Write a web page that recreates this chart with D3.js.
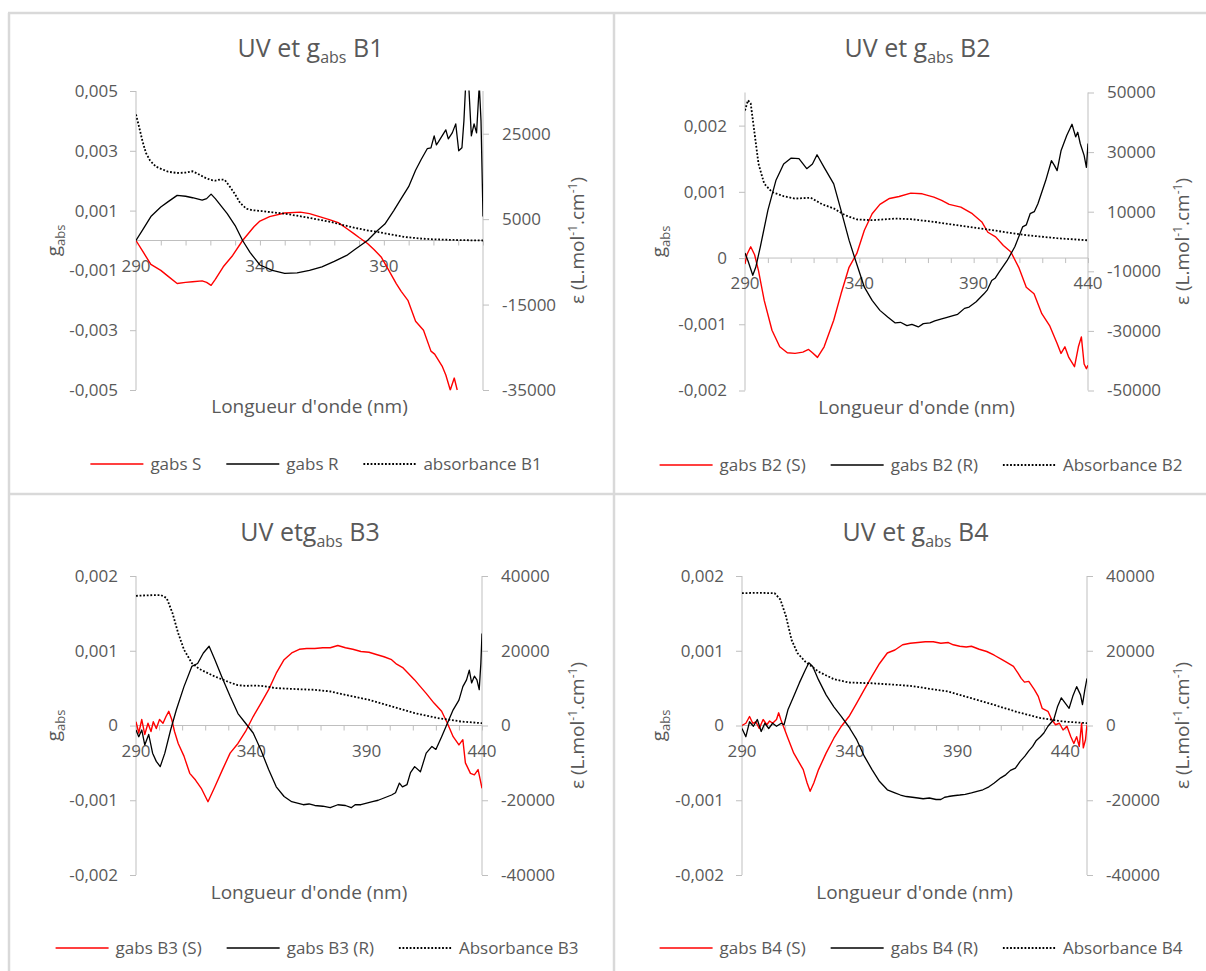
<!DOCTYPE html>
<html><head><meta charset="utf-8">
<script src="https://cdn.jsdelivr.net/npm/d3@7"></script>
<style>
body{margin:0;background:#fff}
svg{display:block}
text{font-family:"Open Sans",sans-serif;fill:#595959}
</style>
</head><body>
<svg id="c" width="1206" height="971"></svg>
<script>
// ---------------- DATA ----------------
// [wavelength nm, g_abs]  and  [wavelength nm, epsilon]
const b1S = [[290,0],[293,-0.0004],[296,-0.0008],[300,-0.001],[303,-0.0012],[306.6,-0.00144],[310,-0.0014],[312.8,-0.00138],[316.7,-0.00135],[318.5,-0.0014],[320.3,-0.0015],[322,-0.0013],[325.2,-0.00088],[329,-0.0005],[333,0],[337.6,0.00046],[340,0.00065],[343.9,0.0008],[350,0.00092],[356.3,0.00095],[360,0.0009],[364,0.0008],[368,0.0007],[371.6,0.0006],[375,0.0004],[377.9,0.00023],[380,0.0001],[383.4,-0.0001],[386,-0.0003],[388.9,-0.00055],[392,-0.001],[395,-0.00144],[397,-0.0017],[399.7,-0.002],[402.8,-0.0027],[406,-0.003],[409,-0.0037],[410.5,-0.0038],[412,-0.004],[413.5,-0.0042],[415,-0.0045],[416.8,-0.005],[418.4,-0.0046],[419.6,-0.005]];
const b1R = [[290,0],[293,0.0004],[296,0.0008],[300,0.00112],[303,0.0013],[306.6,0.00151],[310,0.00148],[312.8,0.00143],[316.7,0.00135],[318.5,0.0014],[320.3,0.00155],[322,0.0014],[326.8,0.0009],[330,0.0005],[333,0],[336,-0.0004],[340,-0.00082],[345,-0.001],[350,-0.0011],[355,-0.00108],[360,-0.001],[365,-0.00088],[370,-0.0007],[375,-0.0005],[378,-0.00032],[383.4,0],[387,0.0003],[390.4,0.00055],[394,0.001],[396.6,0.00135],[400,0.0018],[402.8,0.00235],[405,0.0027],[407.5,0.00307],[409,0.0031],[410.3,0.0035],[411.2,0.0032],[412,0.0033],[413.5,0.0035],[415,0.0037],[416,0.0034],[417.6,0.0036],[419,0.0039],[420.2,0.003],[421.5,0.0031],[422.3,0.004],[423,0.0052],[424.3,0.0051],[425.3,0.0035],[426.4,0.0039],[427.4,0.0036],[428.5,0.0052],[429.2,0.004],[430,0.0008]];
const b1A = [[290,29500],[291.5,26000],[292.6,23300],[294,20500],[295.7,18700],[298,17300],[300.4,16700],[303,16100],[306.6,15800],[310,15900],[312.8,16200],[315,15600],[317.5,14800],[320,14200],[322,14000],[324,14300],[325.8,14200],[328,12500],[329.9,10900],[332,8800],[334.5,7440],[337,7100],[340.7,6900],[345,6600],[350,6280],[355,5800],[359.4,5350],[364,4850],[368.7,4340],[373,3700],[378,3000],[383,2400],[387.4,2000],[393,1400],[398.2,850],[404,500],[409,300],[420,100],[430,0]];

const b2S = [[290,-0.00009],[290.8,0.00005],[292.5,0.00017],[294.2,0.00005],[295.9,-0.00019],[298.4,-0.00064],[301.8,-0.00109],[305.2,-0.00134],[308.5,-0.00143],[311.9,-0.00144],[315.3,-0.00142],[317.8,-0.00138],[319.5,-0.00143],[321.7,-0.0015],[324.6,-0.00134],[328.8,-0.00094],[332,-0.00054],[335.5,-0.00014],[338.9,0.00007],[342.2,0.00042],[345.6,0.00067],[349,0.00081],[353.2,0.0009],[357.4,0.00093],[362.5,0.00098],[367.5,0.00097],[372.6,0.00092],[376,0.00087],[379.3,0.00081],[384.4,0.00077],[389.4,0.00067],[393.7,0.00054],[396.2,0.00039],[399.6,0.00032],[403,0.00019],[406.3,0.00009],[409.7,-0.00014],[413,-0.00044],[416.4,-0.00054],[419.8,-0.00084],[423.2,-0.00102],[426.5,-0.00129],[428.2,-0.00144],[429.9,-0.00134],[431.6,-0.0015],[434.1,-0.00164],[435.8,-0.00134],[437.1,-0.00119],[438.3,-0.0016],[439.3,-0.00167],[440,-0.00162]];
const b2R = [[290,0.000075],[291.3,-0.00004],[293.4,-0.00026],[294.7,-0.00014],[296.7,0.00017],[300,0.00072],[303.5,0.00117],[306.9,0.00142],[310.2,0.00151],[313.6,0.0015],[317,0.00135],[319.5,0.00142],[321.5,0.00156],[324.6,0.00137],[328.8,0.00112],[332,0.00072],[335.5,0.00027],[338,0],[342.2,-0.00044],[345.6,-0.00064],[349,-0.00079],[352.4,-0.00089],[355.7,-0.00098],[358,-0.00097],[360.8,-0.00102],[363,-0.001],[365.8,-0.00104],[368,-0.00099],[370.9,-0.00098],[373,-0.00095],[376,-0.00092],[378,-0.0009],[381,-0.00087],[383,-0.00085],[386,-0.00076],[388,-0.00074],[391.1,-0.00066],[394.5,-0.00054],[396,-0.00048],[397.9,-0.00034],[399.5,-0.0003],[401.2,-0.00021],[404.6,-0.00004],[408,0.00017],[411.4,0.00047],[413,0.0005],[414.7,0.00067],[416.5,0.0007],[418.1,0.00082],[421.5,0.00117],[424,0.00147],[425.3,0.0014],[426.5,0.00132],[428.2,0.00162],[430.7,0.00185],[433,0.00202],[434.6,0.00183],[435.5,0.0019],[436.6,0.00173],[438.3,0.00155],[439.3,0.00137],[440,0.00173]];
const b2A = [[290,44000],[291.3,47400],[292.5,46300],[294.2,36200],[295.9,26100],[298.4,19400],[301.8,16600],[306.9,15200],[311.9,14400],[318.7,14700],[323.7,12500],[328.8,11100],[333.8,8800],[338.9,7400],[345.6,7150],[355.7,7700],[362.5,7500],[372.6,6600],[382.7,5500],[392.8,4400],[403,3240],[413,2120],[426.5,1100],[440,400]];

const b3S = [[290,0.00005],[291.2,-0.0001],[292.5,0.00008],[293.8,-0.00012],[295.2,0.00003],[296.5,-0.00008],[297.5,0.00005],[298.8,-0.00004],[300.2,0.00008],[301.7,0.00003],[303,0.00012],[304.2,0.00019],[305.5,0.00008],[306.7,-0.00008],[308.3,-0.00024],[310.8,-0.00041],[313.3,-0.00064],[315.8,-0.00073],[318.3,-0.00084],[321.2,-0.00102],[324.2,-0.00082],[327.5,-0.00059],[330.8,-0.00037],[334.2,-0.00024],[337.5,-0.00008],[340.8,0.00012],[344.2,0.0003],[347.5,0.00048],[350.8,0.0007],[354.2,0.00088],[357.5,0.00097],[360.8,0.00102],[364,0.00103],[367.5,0.00103],[371,0.00104],[374.2,0.00104],[377.5,0.00107],[380.8,0.00104],[384,0.00102],[387.5,0.00099],[391,0.00098],[394.2,0.00095],[397.5,0.00092],[400.8,0.00088],[403,0.00082],[405.8,0.00077],[408,0.0007],[410.8,0.00061],[413,0.00053],[415.8,0.00043],[419.2,0.0003],[422.5,0.00019],[425,0.00003],[427.5,-0.00015],[430,-0.00026],[431.7,-0.00019],[432.8,-0.0005],[435,-0.00064],[436.7,-0.00066],[438.3,-0.00059],[439.2,-0.00072],[440,-0.00084]];
const b3R = [[290,-0.00006],[291.2,-0.00015],[292.5,-0.00006],[293.8,-0.00026],[295.5,-0.00012],[297.2,-0.00037],[298.8,-0.00048],[300.5,-0.00055],[302.5,-0.00037],[305,-0.00006],[307.5,0.00021],[310.8,0.00052],[314.2,0.00079],[316.7,0.00083],[319.2,0.00097],[321.7,0.00106],[324.2,0.00088],[327.5,0.00063],[330.8,0.00039],[334.2,0.00016],[337.5,0.00003],[340.8,-0.0001],[344.2,-0.00033],[347.5,-0.00059],[350.8,-0.00082],[354.2,-0.00095],[357.5,-0.00102],[360,-0.00104],[362.5,-0.00106],[365,-0.00105],[367.5,-0.00107],[371,-0.00108],[374.2,-0.0011],[377.5,-0.00106],[380.8,-0.00107],[383.3,-0.0011],[385,-0.00106],[387.5,-0.00106],[390,-0.00104],[392.5,-0.00102],[395,-0.001],[397.5,-0.00097],[400.8,-0.00093],[402.5,-0.0009],[404.2,-0.00077],[405.5,-0.00082],[407.5,-0.00079],[409,-0.00063],[410.8,-0.00055],[413.3,-0.00062],[415.8,-0.00037],[418.3,-0.00028],[420,-0.00032],[422.5,-0.00015],[425,0.00003],[427.5,0.00021],[430,0.00034],[431.7,0.00052],[433.3,0.00061],[434.5,0.00074],[435.5,0.00057],[436.7,0.00066],[437.8,0.00061],[438.8,0.00048],[439.5,0.00083],[440,0.00123]];
const b3A = [[290,34700],[294,34800],[298,34900],[300.8,34900],[303.3,34100],[305.8,30100],[308.3,24700],[310.8,20300],[314.2,16700],[317.5,15100],[324.2,13100],[330.8,11500],[334,10800],[337.5,10600],[341,10700],[344.2,10600],[350.8,10000],[360.8,9700],[367.5,9550],[374.2,9100],[380.8,8200],[390.8,6900],[400.8,5100],[410.8,3300],[420.8,2000],[430.8,1070],[440,620]];

const b4S = [[290,0],[291.8,0.00003],[293.5,0.00012],[295,0.00003],[296.4,0.00005],[298,-0.00004],[299.8,0.00008],[301.5,0.00001],[302.8,0.00006],[304.2,0.00003],[306,0.00008],[307,0.00017],[308,0.00008],[309.6,-0.00004],[311.3,-0.00017],[314,-0.00037],[316.6,-0.0005],[318.4,-0.00059],[320.2,-0.00077],[321.6,-0.00088],[323.3,-0.00077],[325.5,-0.00059],[329,-0.00037],[332.6,-0.00017],[336.1,-0.00001],[339.6,0.00012],[343.2,0.0003],[346.7,0.00048],[350.3,0.00066],[353.8,0.00083],[357.4,0.00097],[360.9,0.00101],[364.5,0.00108],[368,0.0011],[371.6,0.00111],[375,0.00112],[378.7,0.00112],[382.2,0.0011],[385.7,0.00111],[388,0.00108],[391,0.00106],[394,0.00105],[396.4,0.00106],[400,0.00102],[403.5,0.00099],[407,0.00094],[410.6,0.00088],[413,0.00084],[415.9,0.00079],[418,0.0007],[419.5,0.00063],[421,0.00058],[423,0.00059],[425.6,0.00048],[427.4,0.00039],[429.2,0.00023],[431.9,0.00019],[433.6,0.00008],[435.4,0.00001],[437.2,0.00003],[438.9,-0.00006],[440.7,-0.00001],[442.5,-0.00015],[443.9,-0.00024],[445.2,-0.00015],[446.4,-0.00028],[447.5,0.00003],[448.3,-0.0003],[449.3,-0.00019],[450,0.00001]];
const b4R = [[290,-0.00004],[291.8,-0.00015],[293.5,0.00005],[295.3,-0.00001],[297.1,0.00008],[298.9,-0.00008],[300.6,0.00003],[302.4,-0.00004],[304.2,0.00003],[306,-0.00001],[308.2,0.00003],[309.5,0.00001],[311.3,0.00021],[314,0.00039],[316.6,0.00057],[319.3,0.00074],[321,0.00084],[322.8,0.00079],[325.5,0.00061],[329,0.00041],[332.6,0.00025],[336.1,0.00012],[339.6,-0.00002],[343.2,-0.00019],[346.7,-0.00041],[350.3,-0.00059],[353.8,-0.00075],[357.4,-0.00086],[360.9,-0.0009],[363.5,-0.00093],[366.2,-0.00095],[369,-0.00096],[371.6,-0.00097],[374,-0.00098],[376.9,-0.00097],[380,-0.00099],[382.2,-0.00099],[384,-0.00096],[385.7,-0.00095],[388,-0.00094],[391,-0.00093],[393.5,-0.00092],[396.4,-0.0009],[399,-0.00088],[401.7,-0.00086],[404.5,-0.00082],[407,-0.00077],[410,-0.0007],[412.3,-0.00066],[414.5,-0.0006],[416.8,-0.00057],[419,-0.00048],[421.2,-0.00041],[423,-0.00034],[424.8,-0.00028],[426.5,-0.0002],[428.4,-0.00015],[430,-0.0001],[431.9,-0.00001],[434.6,0.00008],[436.3,0.00025],[438.1,0.00037],[439.9,0.0003],[441.7,0.00023],[443.4,0.00039],[445.2,0.00052],[447,0.00041],[447.9,0.00028],[449,0.00048],[450,0.00063]];
const b4A = [[290,35400],[297.1,35500],[305.1,35400],[307.8,33700],[310.4,29200],[313,22900],[315.7,19400],[319.3,17100],[325.5,14400],[332.6,12400],[339.6,11500],[350.3,11300],[360.9,10900],[368,10600],[375,10000],[385.7,9100],[396.4,7300],[407,5500],[417.7,3600],[428.4,2000],[439,1070],[450,620]];

// tick values / labels
const xLabelTicks = [290, 340, 390, 440];
const gTicksB1 = [-0.005, -0.003, -0.001, 0.001, 0.003, 0.005];
const eTicksB1 = [-35000, -15000, 5000, 25000];
const gTicksB2 = [-0.002, -0.001, 0, 0.001, 0.002];
const eTicksB2 = [-50000, -30000, -10000, 10000, 30000, 50000];
const gTicksB34 = [-0.002, -0.001, 0, 0.001, 0.002];
const eTicksB34 = [-40000, -20000, 0, 20000, 40000];

// titles and legend names
const titleParts = [["UV et g", "abs", " B1"], ["UV et g", "abs", " B2"], ["UV etg", "abs", " B3"], ["UV et g", "abs", " B4"]];
const legendB1 = ["gabs S", "gabs R", "absorbance B1"];
const legendB2 = ["gabs B2 (S)", "gabs B2 (R)", "Absorbance B2"];
const legendB3 = ["gabs B3 (S)", "gabs B3 (R)", "Absorbance B3"];
const legendB4 = ["gabs B4 (S)", "gabs B4 (R)", "Absorbance B4"];

// ---------------- LAYOUT ----------------
const panels = [
  {x0:136, x1:483, y0:91, y1:390, xDom:[290,430], gDom:[-0.005,0.005], eDom:[-35000,35000], gT:gTicksB1, eT:eTicksB1,
   S:b1S, R:b1R, A:b1A, title:titleParts[0], leg:legendB1, titleY:57, legY:464, legCx:316, lTitleX:54, rTitleX:577, xTitleY:413},
  {x0:745, x1:1088, y0:92.5, y1:390.5, xDom:[290,440], gDom:[-0.002,0.0025], eDom:[-50000,50000], gT:gTicksB2, eT:eTicksB2,
   S:b2S, R:b2R, A:b2A, title:titleParts[1], leg:legendB2, titleY:57, legY:465, legCx:921, lTitleX:659, rTitleX:1182, xTitleY:414},
  {x0:136, x1:482, y0:576, y1:875, xDom:[290,440], gDom:[-0.002,0.002], eDom:[-40000,40000], gT:gTicksB34, eT:eTicksB34,
   S:b3S, R:b3R, A:b3A, title:titleParts[2], leg:legendB3, titleY:541, legY:948, legCx:317, lTitleX:54, rTitleX:577, xTitleY:899},
  {x0:742, x1:1087, y0:576, y1:875, xDom:[290,450], gDom:[-0.002,0.002], eDom:[-40000,40000], gT:gTicksB34, eT:eTicksB34,
   S:b4S, R:b4R, A:b4A, title:titleParts[3], leg:legendB4, titleY:541, legY:948, legCx:921, lTitleX:659, rTitleX:1182, xTitleY:899}
];

const svg = d3.select("#c");
const axisCol = "#bfbfbf";
const txtCol = "#595959";

// chart frames
const frame = svg.append("g").attr("stroke", "#d9d9d9").attr("stroke-width", 2.5);
[[8,13,1206,13],[9,13,9,971],[614,13,614,971],[8,494,1206,494]].forEach(l =>
  frame.append("line").attr("x1", l[0]).attr("y1", l[1]).attr("x2", l[2]).attr("y2", l[3]));

const fmtG = v => v === 0 ? "0" : (v < 0 ? "-" : "") + Math.abs(v).toFixed(3).replace(".", ",");
const fmtE = v => (v < 0 ? "-" : "") + Math.abs(v);

panels.forEach((p, i) => {
  const g = svg.append("g");
  const x = d3.scaleLinear().domain(p.xDom).range([p.x0, p.x1]);
  const yL = d3.scaleLinear().domain(p.gDom).range([p.y1, p.y0]);
  const yR = d3.scaleLinear().domain(p.eDom).range([p.y1, p.y0]);

  // left axis
  const la = g.append("g").attr("transform", `translate(${p.x0},0)`)
    .call(d3.axisLeft(yL).tickValues(p.gT).tickSize(6).tickPadding(12).tickFormat(fmtG));
  // right axis
  const ra = g.append("g").attr("transform", `translate(${p.x1},0)`)
    .call(d3.axisRight(yR).tickValues(p.eT).tickSize(6).tickPadding(13).tickFormat(fmtE));
  [la, ra].forEach(a => {
    a.select(".domain").attr("stroke", axisCol).attr("d", `M0,${p.y0}V${p.y1}`);
    a.selectAll(".tick line").attr("stroke", axisCol);
    a.selectAll(".tick text").attr("fill", txtCol).style("font-size", "17px").style("font-family", '"Open Sans",sans-serif');
  });

  // x axis at g = 0
  const y0 = yL(0);
  const minor = d3.range(p.xDom[0], p.xDom[1] + 0.01, 10);
  const xa = g.append("g").attr("transform", `translate(0,${y0})`)
    .call(d3.axisBottom(x).tickValues(minor).tickSize(5).tickFormat(""));
  xa.select(".domain").attr("stroke", axisCol).attr("d", `M${p.x0},0H${p.x1}`);
  xa.selectAll(".tick line").attr("stroke", axisCol);
  g.selectAll(".xl").data(xLabelTicks.filter(t => t <= p.xDom[1])).enter().append("text")
    .attr("x", d => x(d)).attr("y", y0 + 31).attr("text-anchor", "middle")
    .style("font-size", "17px").text(d => d);

  // series
  const clipId = "clip" + i;
  svg.append("clipPath").attr("id", clipId).append("rect")
    .attr("x", p.x0).attr("y", p.y0 - 0.5).attr("width", p.x1 - p.x0).attr("height", p.y1 - p.y0 + 1);
  const sg = g.append("g").attr("clip-path", `url(#${clipId})`);
  const lineL = d3.line().x(d => x(d[0])).y(d => yL(d[1]));
  const lineR = d3.line().x(d => x(d[0])).y(d => yR(d[1]));
  sg.append("path").attr("d", lineL(p.S)).attr("fill", "none").attr("stroke", "#ff0000").attr("stroke-width", 1.4).attr("stroke-linejoin", "round");
  sg.append("path").attr("d", lineL(p.R)).attr("fill", "none").attr("stroke", "#000").attr("stroke-width", 1.3).attr("stroke-linejoin", "round");
  sg.append("path").attr("d", lineR(p.A)).attr("fill", "none").attr("stroke", "#000").attr("stroke-width", 1.8).attr("stroke-dasharray", "1.8,1.8");

  // title
  const t = g.append("text").attr("x", (p.x0 + p.x1) / 2 + 1).attr("y", p.titleY).attr("text-anchor", "middle").style("font-size", "25px");
  t.append("tspan").text(p.title[0]);
  t.append("tspan").attr("dy", 6).style("font-size", "16px").text(p.title[1]);
  t.append("tspan").attr("dy", -6).style("font-size", "25px").text(p.title[2]);

  // x axis title
  g.append("text").attr("x", (p.x0 + p.x1) / 2).attr("y", p.xTitleY).attr("text-anchor", "middle")
    .style("font-size", "19px").text("Longueur d'onde (nm)");

  // left axis title (g_abs)
  const cy = (p.y0 + p.y1) / 2;
  const lt = g.append("text").attr("transform", `translate(${p.lTitleX + 6},${cy}) rotate(-90)`).attr("text-anchor", "middle")
    .style("font-size", "19px");
  lt.append("tspan").text("g");
  lt.append("tspan").attr("dy", 5).style("font-size", "13px").text("abs");

  // right axis title
  const rt = g.append("text").attr("transform", `translate(${p.rTitleX + 7},${cy}) rotate(-90)`).attr("text-anchor", "middle")
    .style("font-size", "19px");
  rt.append("tspan").text("ε (L.mol");
  rt.append("tspan").attr("dy", -7).style("font-size", "12px").text("-1");
  rt.append("tspan").attr("dy", 7).style("font-size", "19px").text(".cm");
  rt.append("tspan").attr("dy", -7).style("font-size", "12px").text("-1");
  rt.append("tspan").attr("dy", 7).style("font-size", "19px").text(")");

  // legend
  const lg = g.append("g");
  const styles = [{c:"#ff0000", w:1.4, d:null}, {c:"#000", w:1.3, d:null}, {c:"#000", w:1.8, d:"1.8,1.8"}];
  const lineLen = 53, gapT = 7, gapI = 25;
  const items = p.leg.map((name, k) => {
    const it = lg.append("g");
    it.append("line").attr("x1", 0).attr("x2", lineLen).attr("y1", 0).attr("y2", 0)
      .attr("stroke", styles[k].c).attr("stroke-width", styles[k].w).attr("stroke-dasharray", styles[k].d);
    const tx = it.append("text").attr("x", lineLen + gapT).attr("y", 0).attr("dy", "0.35em").style("font-size", "17px").text(name);
    return {it, w: lineLen + gapT + tx.node().getComputedTextLength()};
  });
  const total = d3.sum(items, d => d.w) + gapI * (items.length - 1);
  let cx = p.legCx - total / 2;
  items.forEach(d => { d.it.attr("transform", `translate(${cx},${p.legY})`); cx += d.w + gapI; });
});
</script>
</body></html>
